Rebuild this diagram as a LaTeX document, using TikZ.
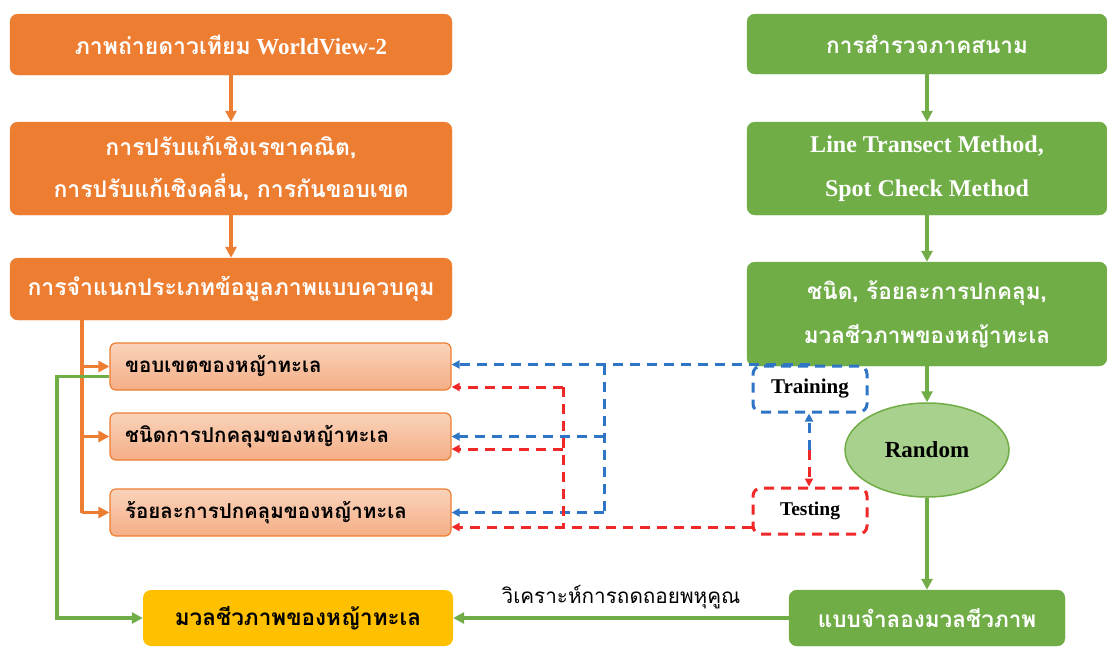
\documentclass[tikz,border=0pt]{standalone}
\usepackage{fontspec}
\setmainfont{Liberation Serif}
\newfontfamily\thai[Script=Thai]{Loma}
\usetikzlibrary{shapes,arrows.meta,positioning}
\definecolor{orng}{HTML}{ED7D31}
\definecolor{salmA}{HTML}{FAD3BA}
\definecolor{salmB}{HTML}{F4AE86}
\definecolor{grn}{HTML}{70AD47}
\definecolor{lgrn}{HTML}{A9D18E}
\definecolor{ylw}{HTML}{FFC000}
\definecolor{blu}{HTML}{2E75C6}
\definecolor{rd}{HTML}{F02828}
\tikzstyle{obox} = [rectangle, rounded corners=8pt, fill=orng, draw=orng, text=white, minimum width=442pt, align=center, font=\bfseries\fontsize{23}{42}\selectfont]
\tikzstyle{gbox} = [rectangle, rounded corners=8pt, fill=grn, draw=grn, text=white, minimum width=360pt, align=center, font=\bfseries\fontsize{22.5}{44}\selectfont]
\tikzstyle{sbox} = [rectangle, rounded corners=6pt, top color=salmA, bottom color=salmB, draw=orng, line width=1.2pt, text width=311pt, inner xsep=15pt, minimum height=47pt, align=left, font=\bfseries\fontsize{20.5}{24}\selectfont]
\tikzstyle{dbox} = [rectangle, rounded corners=8pt, line width=3pt, dash pattern=on 10pt off 7pt, minimum width=114pt, minimum height=46pt, font=\bfseries\fontsize{21}{24}\selectfont]
\tikzstyle{oline} = [draw=orng, line width=3.5pt, -{Triangle[length=11pt,width=11pt]}]
\tikzstyle{gline} = [draw=grn, line width=3.5pt, -{Triangle[length=11pt,width=11pt]}]
\tikzstyle{bline} = [draw=blu, line width=3pt, dash pattern=on 10pt off 7pt, -{Triangle[length=8pt,width=8pt]}]
\tikzstyle{rline} = [draw=rd, line width=3pt, dash pattern=on 10pt off 7pt, -{Triangle[length=8pt,width=8pt]}]

\begin{document}
\begin{tikzpicture}[x=1pt, y=-1pt]
  \useasboundingbox (0,0) rectangle (1107,648);
  % left column
  \node [obox, minimum height=61pt] (img) at (231,44.5) {{\thai ภาพถ่ายดาวเทียม} WorldView-2};
  \node [obox, minimum height=93pt, below of=img, node distance=124pt] (corr) {\thai การปรับแก้เชิงเรขาคณิต,\\ \thai การปรับแก้เชิงคลื่น, การกันขอบเขต};
  \node [obox, minimum height=62pt, below of=corr, node distance=120.5pt] (cls) {\thai การจำแนกประเภทข้อมูลภาพแบบควบคุม};
  \node [sbox] (bnd) at (280.5,366.5) {\thai ขอบเขตของหญ้าทะเล};
  \node [sbox, below of=bnd, node distance=70pt] (typ) {\thai ชนิดการปกคลุมของหญ้าทะเล};
  \node [sbox, below of=typ, node distance=76pt] (pct) {\thai ร้อยละการปกคลุมของหญ้าทะเล};
  \node [rectangle, rounded corners=8pt, fill=ylw, minimum width=310pt, minimum height=56pt, font=\bfseries\fontsize{22.5}{24}\selectfont] (bio) at (298,618) {\thai มวลชีวภาพของหญ้าทะเล};
  % right column
  \node [gbox, minimum height=60pt] (srv) at (927,44) {\thai การสำรวจภาคสนาม};
  \node [gbox, minimum height=93pt, below of=srv, node distance=124.5pt, font=\bfseries\fontsize{24}{44}\selectfont] (mth) {Line Transect Method,\\Spot Check Method};
  \node [gbox, minimum height=104pt, below of=mth, node distance=145.5pt] (meas) {\thai ชนิด, ร้อยละการปกคลุม,\\ \thai มวลชีวภาพของหญ้าทะเล};
  \node [ellipse, fill=lgrn, draw=grn, line width=1.5pt, minimum width=164pt, minimum height=94pt, font=\bfseries\fontsize{23}{24}\selectfont, below of=meas, node distance=136pt] (rnd) {Random};
  \node [gbox, minimum width=276pt, minimum height=56pt, below of=rnd, node distance=168pt] (mdl) {\thai แบบจำลองมวลชีวภาพ};
  \node [dbox, draw=blu] (trn) at (810,389) {Training};
  \node [dbox, draw=rd, below of=trn, node distance=122pt, font=\bfseries\fontsize{19.5}{24}\selectfont] (tst) {Testing};

  \coordinate (trunk) at (82,0);
  \coordinate (gl) at (57,0);
  \coordinate (bv) at (604,0);
  \coordinate (rv) at (563,0);
  \coordinate (mid) at (809,450);

  \path [oline] (img) -- (corr);
  \path [oline] (corr) -- (cls);
  \draw [orng, line width=3.5pt] (cls.south -| trunk) -- (trunk |- pct.west);
  \path [oline] (trunk |- bnd.west) -- (bnd.west);
  \path [oline] (trunk |- typ.west) -- (typ.west);
  \path [oline] (trunk |- pct.west) -- (pct.west);
  \path [gline] ([yshift=-10pt]bnd.west) -| (gl |- bio.west) -- (bio.west);

  \path [gline] (srv) -- (mth);
  \path [gline] (mth) -- (meas);
  \path [gline] (meas) -- (rnd);
  \path [gline] (rnd) -- (mdl);
  \path [gline] (mdl) -- node [midway, above=4pt, text=black, font=\fontsize{20.7}{24}\selectfont] {\thai วิเคราะห์การถดถอยพหุคูณ} (bio);

  \path [bline] (trn.north) -- (trn.north -| bnd.east);
  \draw [blu, line width=3pt, dash pattern=on 10pt off 7pt] (bv |- trn.north) -- (bv |- pct.east);
  \path [bline] (bv |- typ.east) -- (typ.east);
  \path [bline] (bv |- pct.east) -- (pct.east);
  \path [rline] ([yshift=-16pt]tst.west) -- ([yshift=-16pt]tst.west -| pct.east);
  \draw [rd, line width=3pt, dash pattern=on 10pt off 7pt] (rv |- 0,387) -- (rv |- 0,527);
  \path [rline] (rv |- 0,387) -- (bnd.east |- 0,387);
  \path [rline] (rv |- 0,449) -- (typ.east |- 0,449);
  \path [bline] (mid) -- (mid |- trn.south);
  \path [rline] (mid) -- (mid |- tst.north);
\end{tikzpicture}
\end{document}
